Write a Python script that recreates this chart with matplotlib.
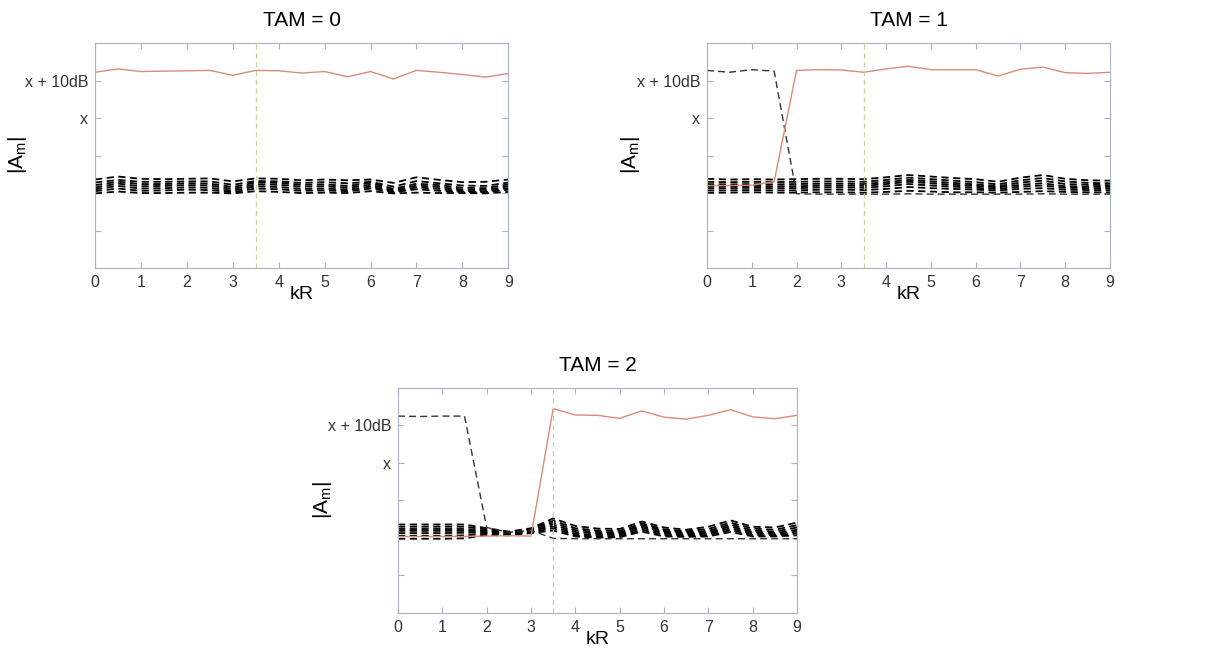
import matplotlib.pyplot as plt
import numpy as np

plt.rcParams['font.family'] = ['Liberation Sans', 'DejaVu Sans']
plt.rcParams['mathtext.fontset'] = 'custom'
plt.rcParams['mathtext.rm'] = 'Liberation Sans'
plt.rcParams['mathtext.it'] = 'Liberation Sans'

# kR sample points
kr = [0, 0.5, 1, 1.5, 2, 2.5, 3, 3.5, 4, 4.5, 5, 5.5, 6, 6.5, 7, 7.5, 8, 8.5, 9]
kr_cut = 3.5

# y tick positions and labels (only two are labelled)
ytick_pos = [0, 1, 2, 3, 4, 5, 6]
ytick_lab = ['', '', '', '', 'x', 'x + 10dB', '']

# ---- TAM = 0 ----
tam0_red = [5.22, 5.31, 5.24, 5.25, 5.26, 5.27, 5.14, 5.27, 5.26, 5.20, 5.24, 5.10, 5.24, 5.04, 5.27, 5.22, 5.16, 5.09, 5.19]
tam0_modes = [
    [2.36, 2.44, 2.38, 2.37, 2.38, 2.39, 2.31, 2.39, 2.38, 2.34, 2.36, 2.34, 2.36, 2.27, 2.42, 2.35, 2.29, 2.30, 2.36],
    [2.28, 2.35, 2.30, 2.30, 2.31, 2.31, 2.22, 2.32, 2.31, 2.27, 2.29, 2.26, 2.30, 2.17, 2.32, 2.26, 2.20, 2.19, 2.28],
    [2.21, 2.30, 2.24, 2.24, 2.26, 2.25, 2.16, 2.28, 2.27, 2.22, 2.23, 2.19, 2.27, 2.11, 2.25, 2.21, 2.14, 2.13, 2.23],
    [2.15, 2.25, 2.18, 2.19, 2.21, 2.20, 2.11, 2.23, 2.22, 2.17, 2.18, 2.14, 2.22, 2.07, 2.20, 2.16, 2.09, 2.08, 2.18],
    [2.10, 2.19, 2.12, 2.13, 2.15, 2.14, 2.06, 2.18, 2.16, 2.11, 2.12, 2.09, 2.17, 2.04, 2.15, 2.11, 2.05, 2.04, 2.13],
    [2.05, 2.12, 2.06, 2.07, 2.09, 2.08, 2.02, 2.12, 2.10, 2.06, 2.07, 2.05, 2.12, 2.02, 2.10, 2.06, 2.03, 2.02, 2.09],
    [1.99, 2.04, 2.00, 2.00, 2.01, 2.01, 1.99, 2.05, 2.03, 2.00, 2.01, 2.00, 2.05, 1.99, 2.01, 2.00, 2.00, 1.99, 2.03],
]

# ---- TAM = 1 ----
tam1_red = [2.20, 2.20, 2.21, 2.30, 5.27, 5.29, 5.28, 5.22, 5.31, 5.38, 5.29, 5.29, 5.29, 5.12, 5.30, 5.36, 5.21, 5.19, 5.22]
tam1_modes = [
    [2.38, 2.36, 2.37, 2.36, 2.37, 2.38, 2.38, 2.37, 2.42, 2.48, 2.44, 2.40, 2.37, 2.30, 2.41, 2.48, 2.38, 2.34, 2.33],
    [2.30, 2.29, 2.30, 2.29, 2.30, 2.31, 2.31, 2.30, 2.35, 2.41, 2.37, 2.33, 2.29, 2.23, 2.34, 2.40, 2.31, 2.27, 2.26],
    [2.24, 2.23, 2.24, 2.23, 2.24, 2.25, 2.25, 2.24, 2.29, 2.35, 2.31, 2.27, 2.23, 2.18, 2.28, 2.33, 2.24, 2.22, 2.21],
    [2.18, 2.18, 2.19, 2.18, 2.18, 2.20, 2.20, 2.19, 2.24, 2.30, 2.26, 2.22, 2.19, 2.15, 2.22, 2.26, 2.18, 2.17, 2.17],
    [2.13, 2.13, 2.14, 2.13, 2.13, 2.15, 2.15, 2.14, 2.18, 2.24, 2.20, 2.17, 2.14, 2.11, 2.17, 2.20, 2.14, 2.13, 2.13],
    [2.07, 2.07, 2.08, 2.07, 2.07, 2.09, 2.09, 2.08, 2.11, 2.16, 2.13, 2.11, 2.09, 2.07, 2.11, 2.13, 2.09, 2.08, 2.08],
    [2.01, 2.01, 2.02, 2.01, 2.01, 2.02, 2.02, 2.01, 2.03, 2.06, 2.04, 2.02, 2.02, 2.01, 2.03, 2.05, 2.03, 2.02, 2.02],
]
tam1_high = [5.27, 5.22, 5.29, 5.25, 1.98, 1.97, 1.97, 1.97, 1.97, 1.98, 1.97, 1.97, 1.97, 1.97, 1.97, 1.98, 1.97, 1.97, 1.97]

# ---- TAM = 2 ----
tam2_red = [2.04, 2.04, 2.04, 2.04, 2.05, 2.06, 2.05, 5.45, 5.28, 5.27, 5.19, 5.39, 5.22, 5.17, 5.27, 5.42, 5.23, 5.18, 5.27]
tam2_modes = [
    [2.36, 2.36, 2.36, 2.36, 2.26, 2.17, 2.26, 2.52, 2.32, 2.25, 2.24, 2.44, 2.28, 2.22, 2.30, 2.47, 2.30, 2.28, 2.41],
    [2.30, 2.30, 2.30, 2.30, 2.23, 2.15, 2.24, 2.46, 2.26, 2.20, 2.19, 2.39, 2.23, 2.18, 2.24, 2.41, 2.25, 2.22, 2.34],
    [2.24, 2.24, 2.24, 2.24, 2.20, 2.13, 2.22, 2.41, 2.21, 2.16, 2.15, 2.35, 2.19, 2.15, 2.19, 2.36, 2.20, 2.17, 2.28],
    [2.19, 2.19, 2.19, 2.19, 2.17, 2.12, 2.20, 2.36, 2.16, 2.12, 2.12, 2.31, 2.16, 2.12, 2.15, 2.31, 2.16, 2.13, 2.22],
    [2.13, 2.13, 2.13, 2.14, 2.14, 2.11, 2.18, 2.31, 2.11, 2.08, 2.08, 2.27, 2.12, 2.09, 2.11, 2.26, 2.12, 2.10, 2.17],
    [2.06, 2.06, 2.06, 2.07, 2.11, 2.09, 2.16, 2.26, 2.07, 2.04, 2.04, 2.22, 2.08, 2.06, 2.07, 2.21, 2.08, 2.07, 2.12],
    [1.98, 1.98, 1.98, 1.99, 2.08, 2.07, 2.13, 2.20, 2.04, 2.01, 2.02, 2.17, 2.04, 2.03, 2.04, 2.16, 2.04, 2.04, 2.07],
]
tam2_high = [5.25, 5.24, 5.25, 5.25, 2.28, 2.15, 2.20, 1.99, 1.98, 1.98, 1.98, 1.98, 1.98, 1.98, 1.98, 1.98, 1.98, 1.98, 1.98]

panels = [
    ("TAM = 0", tam0_red, tam0_modes, None, [0.0784, 0.587, 0.341, 0.3467]),
    ("TAM = 1", tam1_red, tam1_modes, tam1_high, [0.5833, 0.587, 0.3325, 0.3467]),
    ("TAM = 2", tam2_red, tam2_modes, tam2_high, [0.3284, 0.0555, 0.3292, 0.3467]),
]

box_col = '#aab3c5'

fig = plt.figure(figsize=(12.12, 6.49), dpi=100)

for title, red, modes, high, pos in panels:
    ax = fig.add_axes(pos)
    # the other modes, black dashed
    for m in modes:
        ax.plot(kr, m, color='black', linestyle=(0, (4, 2.5)), linewidth=1.3)
    # mode that drops out of the top, thinner dashes
    if high is not None:
        ax.plot(kr, high, color='#333333', linestyle=(0, (5, 3)), linewidth=1.0)
    # the mode carrying the OAM, red solid
    ax.plot(kr, red, color='#dc8a7a', linewidth=1.0)
    ax.axvline(kr_cut, color='#cdd09a', linestyle=(0, (4, 3)), linewidth=0.9)

    ax.set_xlim(0, 9)
    ax.set_ylim(0, 6)
    ax.set_xticks(range(10))
    ax.set_yticks(ytick_pos)
    ax.set_yticklabels(ytick_lab)
    ax.tick_params(direction='in', top=True, right=True, length=4, color=box_col,
                   labelsize=11.5, labelcolor='#333333', pad=5)
    for s in ax.spines.values():
        s.set_color(box_col)
        s.set_linewidth(0.8)
    ax.set_title(title, fontsize=15, pad=12)
    ax.set_xlabel('kR', fontsize=14, labelpad=-3)
    ax.set_ylabel(r'$\mathregular{|A_m|}$', fontsize=15)
    ax.yaxis.set_label_coords(-0.16, 0.5)

plt.savefig('out.png', dpi=100)
